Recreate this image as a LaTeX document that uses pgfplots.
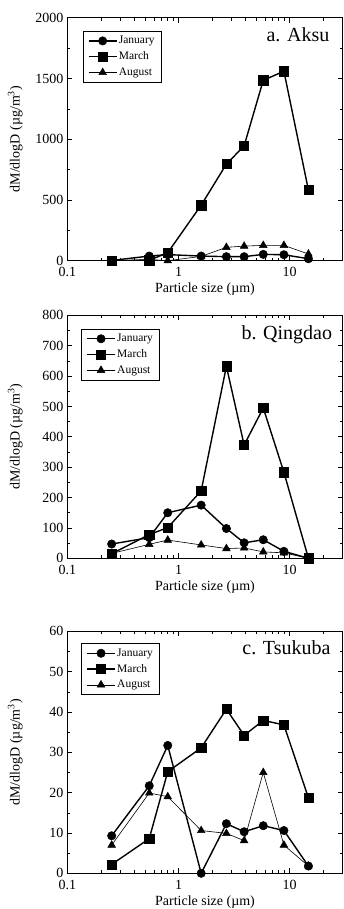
\documentclass[border=0pt]{standalone}
\usepackage{fontspec}
\setmainfont{Liberation Serif}
\usepackage{pgfplots}
\pgfplotsset{compat=1.18}
\pgfkeys{/pgf/number format/assume math mode=true, /pgf/number format/1000 sep={}}
\pgfplotsset{
  mypanel/.style={
    scale only axis, width=275pt,
    xmin=0.1, xmax=30, ymin=0,
    xtick={0.1,1,10}, xticklabels={0.1,1,10},
    minor xtick={0.2,0.3,0.4,0.5,0.6,0.7,0.8,0.9,2,3,4,5,6,7,8,9,20,30},
    ticklabel style={font=\fontsize{14}{14}\selectfont},
    xticklabel style={yshift=-3pt},
    yticklabel style={xshift=-0.5pt},
    tick style={black, line width=0.6pt},
    major tick length=5pt, minor tick length=3pt,
    axis line style={line width=0.7pt},
    xlabel={Particle size (µm)},
    ylabel={dM/dlogD (µg/m\textsuperscript{3})},
    label style={font=\fontsize{14}{14}\selectfont},
    xlabel style={at={(axis description cs:0.5,-0.131)}, anchor=base},
    ylabel style={at={(axis description cs:-0.19,0.5)}, anchor=center},
    legend cell align=left,
    legend style={draw=black, line width=0.7pt, font=\fontsize{11.5}{12}\selectfont,
      anchor=north west, inner xsep=5pt, inner ysep=3.5pt, row sep=3.5pt,
      nodes={inner sep=1.5pt}},
  },
}
\tikzset{
  serjan/.style={black, line width=1.4pt, mark=*, mark size=4.2pt, mark options={solid, fill=black, line width=0.5pt}},
  sermar/.style={black, line width=1.4pt, mark=square*, mark size=4.6pt, mark options={solid, fill=black, line width=0.5pt}},
  seraug/.style={black, line width=0.6pt, mark=triangle*, mark size=4.4pt, mark options={solid, fill=black, line width=0.5pt}},
  legimg/.style={/pgfplots/legend image code/.code={\draw[mark repeat=2,mark phase=2] plot coordinates {(0pt,0pt)(14pt,0pt)(28pt,0pt)};}},
}
\begin{document}
\begin{tikzpicture}
% Panel a
\begin{semilogxaxis}[mypanel, height=243pt, at={(67.5pt,648.3pt)}, anchor=south west,
  ymax=2000, ytick={0,500,1000,1500,2000}, minor ytick={250,750,1250,1750},
  legend style={at={(axis description cs:0.055,0.945)}}]
\addplot[serjan, legimg] coordinates {(0.25,2)(0.545,38)(0.8,50)(1.6,38)(2.7,33)(3.9,33)(5.8,52)(8.9,49)(14.8,16)};
\addplot[sermar, legimg] coordinates {(0.25,0)(0.545,3)(0.8,66)(1.6,457)(2.7,795)(3.9,945)(5.8,1485)(8.9,1559)(14.8,581)};
\addplot[seraug, legimg] coordinates {(0.25,0)(0.545,10)(0.8,0)(1.6,35)(2.7,110)(3.9,120)(5.8,126)(8.9,126)(14.8,55)};
\legend{January,March,August}
\node[anchor=base east, font=\fontsize{20}{20}\selectfont] at (axis description cs:0.965,0.901) {a. Aksu};
\end{semilogxaxis}
% Panel b
\begin{semilogxaxis}[mypanel, height=243pt, at={(67.5pt,350.7pt)}, anchor=south west,
  ymax=800, ytick={0,100,...,800}, minor ytick={50,150,...,750},
  legend style={at={(axis description cs:0.049,0.944)}}]
\addplot[serjan, legimg] coordinates {(0.25,47)(0.545,68)(0.8,150)(1.6,175)(2.7,98)(3.9,51)(5.8,61)(8.9,23)(14.8,0)};
\addplot[sermar, legimg] coordinates {(0.25,15)(0.545,78)(0.8,101)(1.6,222)(2.7,632)(3.9,373)(5.8,495)(8.9,283)(14.8,0)};
\addplot[seraug, legimg] coordinates {(0.25,16)(0.545,46)(0.8,60)(1.6,44)(2.7,32)(3.9,34)(5.8,21)(8.9,18)(14.8,0)};
\legend{January,March,August}
\node[anchor=base east, font=\fontsize{20}{20}\selectfont] at (axis description cs:0.975,0.901) {b. Qingdao};
\end{semilogxaxis}
% Panel c
\begin{semilogxaxis}[mypanel, height=242pt, at={(67.5pt,35.7pt)}, anchor=south west,
  ymax=60, ytick={0,10,...,60}, minor ytick={5,15,...,55},
  legend style={at={(axis description cs:0.049,0.950)}}]
\addplot[serjan, legimg] coordinates {(0.25,9.3)(0.545,21.7)(0.8,31.7)(1.6,0)(2.7,12.3)(3.9,10.3)(5.8,11.8)(8.9,10.6)(14.8,1.8)};
\addplot[sermar, legimg] coordinates {(0.25,2.2)(0.545,8.6)(0.8,25.2)(1.6,31.1)(2.7,40.7)(3.9,34.2)(5.8,37.9)(8.9,36.8)(14.8,18.7)};
\addplot[seraug, legimg] coordinates {(0.25,7.0)(0.545,19.9)(0.8,19.0)(1.6,10.6)(2.7,9.9)(3.9,8.1)(5.8,25.0)(8.9,7.0)(14.8,1.8)};
\legend{January,March,August}
\node[anchor=base east, font=\fontsize{20}{20}\selectfont] at (axis description cs:0.969,0.905) {c. Tsukuba};
\end{semilogxaxis}
\pgfresetboundingbox
\useasboundingbox (0,0) rectangle (343pt,909pt);
\end{tikzpicture}
\end{document}
